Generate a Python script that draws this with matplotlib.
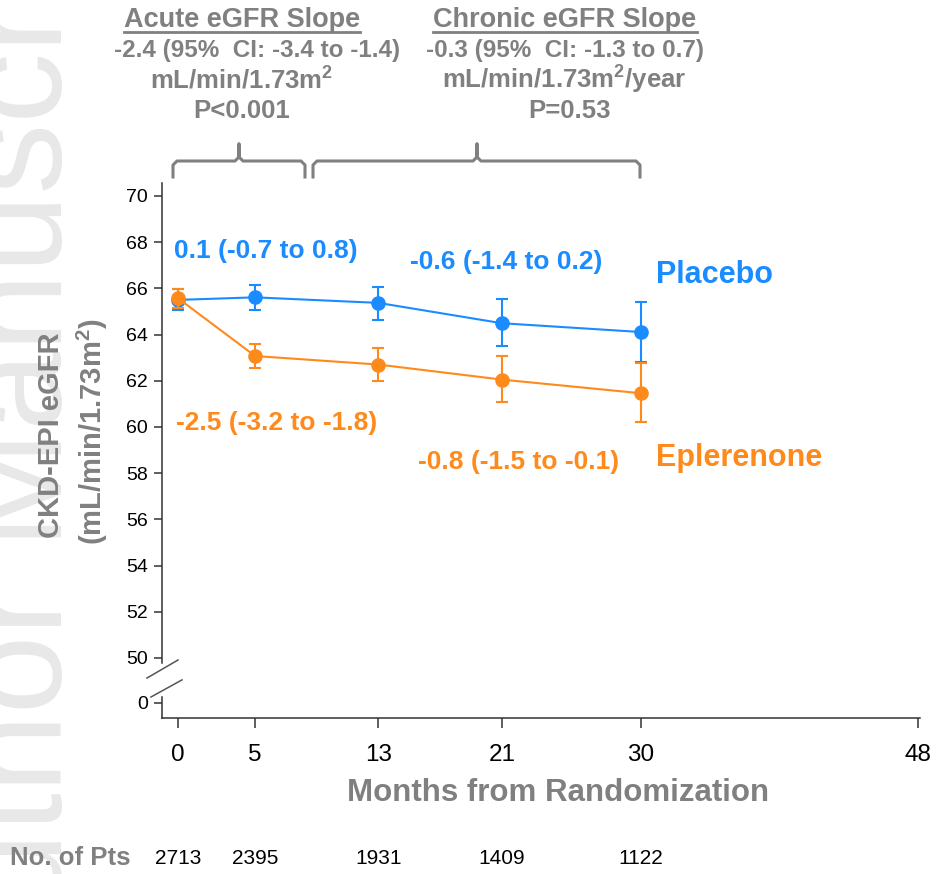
import matplotlib
matplotlib.use("Agg")
import matplotlib.pyplot as plt
import matplotlib.transforms as mtransforms
from matplotlib.lines import Line2D

plt.rcParams['font.family'] = ['Liberation Sans', 'DejaVu Sans']
plt.rcParams['mathtext.fontset'] = 'custom'
plt.rcParams['mathtext.rm'] = 'Liberation Sans'
plt.rcParams['mathtext.bf'] = 'Liberation Sans:bold'

# ---------------- data ----------------
months = [0, 5, 13, 21, 30]
xtick_vals = [0, 5, 13, 21, 30, 48]
placebo_mean = [65.50, 65.61, 65.37, 64.49, 64.11]
placebo_low = [65.06, 65.08, 64.64, 63.49, 62.80]
placebo_high = [65.96, 66.13, 66.07, 65.54, 65.43]
eplerenone_mean = [65.57, 63.07, 62.70, 62.05, 61.46]
eplerenone_low = [65.14, 62.55, 61.97, 61.08, 60.20]
eplerenone_high = [65.99, 63.59, 63.43, 63.07, 62.75]
ytick_vals = [50, 52, 54, 56, 58, 60, 62, 64, 66, 68, 70]
n_pts = ["2713", "2395", "1931", "1409", "1122"]

# ---------------- style ----------------
W, H = 938, 874
BLUE = '#1A8CFF'
ORANGE = '#FF8A1C'
GRAY = '#808080'
ZERO_POS = 48.05  # position of the broken-axis "0" tick
SQ = r'$^{\mathbf{2}}$'


def fx(px):
    return px / W


def fy(py):
    return 1 - py / H


fig = plt.figure(figsize=(W / 100, H / 100), dpi=100)
ax = fig.add_axes([fx(162), fy(718), fx(920) - fx(162), fy(183) - fy(718)])
ax.set_xlim(-1.04, 48.13)
ax.set_ylim(47.40, 70.56)

# watermark
fig.text(fx(62), fy(1005), 'Author Manuscript', rotation=90, rotation_mode='anchor',
         ha='left', va='baseline', fontsize=102, color='#e8e8e8', zorder=0)

# series
ax.errorbar(months, placebo_mean,
            yerr=[[m - l for m, l in zip(placebo_mean, placebo_low)],
                  [h - m for m, h in zip(placebo_mean, placebo_high)]],
            color=BLUE, marker='o', markersize=9.5, lw=1.5, elinewidth=1.5,
            capsize=4, capthick=1.5, zorder=3)
ax.errorbar(months, eplerenone_mean,
            yerr=[[m - l for m, l in zip(eplerenone_mean, eplerenone_low)],
                  [h - m for m, h in zip(eplerenone_mean, eplerenone_high)]],
            color=ORANGE, marker='o', markersize=9.5, lw=1.5, elinewidth=1.5,
            capsize=4, capthick=1.5, zorder=4)

# axes styling
for s in ['top', 'right']:
    ax.spines[s].set_visible(False)
ax.spines['left'].set_color('#333333')
ax.spines['bottom'].set_color('#333333')
ax.spines['left'].set_linewidth(1.1)
ax.spines['bottom'].set_linewidth(1.1)
ax.spines['left'].set_bounds(49.78, 70.56)
ax.plot([0, 0], [47.40, 48.32], transform=ax.get_yaxis_transform(),
        color='#333333', lw=1.1, clip_on=False)
# break marks
ax.plot([-0.0198, 0.0211], [49.13, 49.91], transform=ax.get_yaxis_transform(),
        color='#555555', lw=1.1, clip_on=False)
ax.plot([-0.0145, 0.0264], [48.31, 49.05], transform=ax.get_yaxis_transform(),
        color='#555555', lw=1.1, clip_on=False)

ax.set_yticks([ZERO_POS] + ytick_vals)
ax.set_yticklabels(['0'] + [str(v) for v in ytick_vals])
ax.set_xticks(xtick_vals)
ax.set_xticklabels([str(v) for v in xtick_vals])
ax.tick_params(axis='y', direction='out', length=6, width=1.1, labelsize=14,
               pad=4, color='#333333')
ax.tick_params(axis='x', direction='out', length=7, width=1.1, labelsize=17.5,
               pad=12, color='#333333')

# annotations
ann = dict(fontsize=19, fontweight='bold', va='center', ha='left')
fig.text(fx(174), fy(251), '0.1 (-0.7 to 0.8)', color=BLUE, **ann)
fig.text(fx(410), fy(262), '-0.6 (-1.4 to 0.2)', color=BLUE, **ann)
fig.text(fx(176), fy(423), '-2.5 (-3.2 to -1.8)', color=ORANGE, **ann)
fig.text(fx(418), fy(462), '-0.8 (-1.5 to -0.1)', color=ORANGE, **ann)
fig.text(fx(656), fy(275), 'Placebo', color=BLUE, fontsize=22, fontweight='bold',
         va='center', ha='left')
fig.text(fx(656), fy(458), 'Eplerenone', color=ORANGE, fontsize=22,
         fontweight='bold', va='center', ha='left')

# header
hdr = dict(color=GRAY, fontweight='bold', ha='center', va='baseline')
t1 = fig.text(fx(242), fy(27), 'Acute eGFR Slope', fontsize=19.5, **hdr)
fig.text(fx(257), fy(57), '-2.4 (95%  CI: -3.4 to -1.4)', fontsize=17.5, **hdr)
fig.text(fx(242), fy(88), 'mL/min/1.73m' + SQ, fontsize=18.5, **hdr)
fig.text(fx(242), fy(118), 'P<0.001', fontsize=18.5, **hdr)
t2 = fig.text(fx(565), fy(27), 'Chronic eGFR Slope', fontsize=19.5, **hdr)
fig.text(fx(565), fy(57), '-0.3 (95%  CI: -1.3 to 0.7)', fontsize=17.5, **hdr)
fig.text(fx(564), fy(88), 'mL/min/1.73m' + SQ + '/year', fontsize=18.5, **hdr)
fig.text(fx(569), fy(118), 'P=0.53', fontsize=18.5, **hdr)

# underline the titles
fig.canvas.draw()
r = fig.canvas.get_renderer()
for t in (t1, t2):
    bb = t.get_window_extent(r)
    fig.add_artist(Line2D([bb.x0 / W, bb.x1 / W], [fy(32), fy(32)],
                          transform=fig.transFigure, color=GRAY, lw=2))


# brackets
def bracket(x0, x1, xm):
    yb, yh, yt = 177, 161, 144
    xs = [x0, x0, x0 + 4, xm - 4, xm, xm, xm, xm + 4, x1 - 4, x1, x1]
    ys = [yb, yh + 4, yh, yh, yh - 4, yt, yh - 4, yh, yh, yh + 4, yb]
    fig.add_artist(Line2D([fx(v) for v in xs], [fy(v) for v in ys],
                          transform=fig.transFigure, color=GRAY, lw=2.2,
                          solid_joinstyle='round'))


bracket(173, 305, 239)
bracket(313, 640, 477)

# axis labels
fig.text(fx(51), fy(435), 'CKD-EPI eGFR', rotation=90, color=GRAY, fontsize=21,
         fontweight='bold', ha='center', va='center')
fig.text(fx(92), fy(432), '(mL/min/1.73m' + SQ + ')', rotation=90, color=GRAY,
         fontsize=21, fontweight='bold', ha='center', va='center')
fig.text(fx(558), fy(793), 'Months from Randomization', color=GRAY, fontsize=22.5,
         fontweight='bold', ha='center', va='center')

# number at risk row
fig.text(fx(10), fy(858), 'No. of Pts', color=GRAY, fontsize=18.5,
         fontweight='bold', ha='left', va='center')
row_tr = mtransforms.blended_transform_factory(ax.transData, fig.transFigure)
for m, n in zip(months, n_pts):
    ax.text(m, fy(858), n, transform=row_tr, fontsize=15, color='black',
            ha='center', va='center', clip_on=False)

fig.savefig('out.png', dpi=100)
